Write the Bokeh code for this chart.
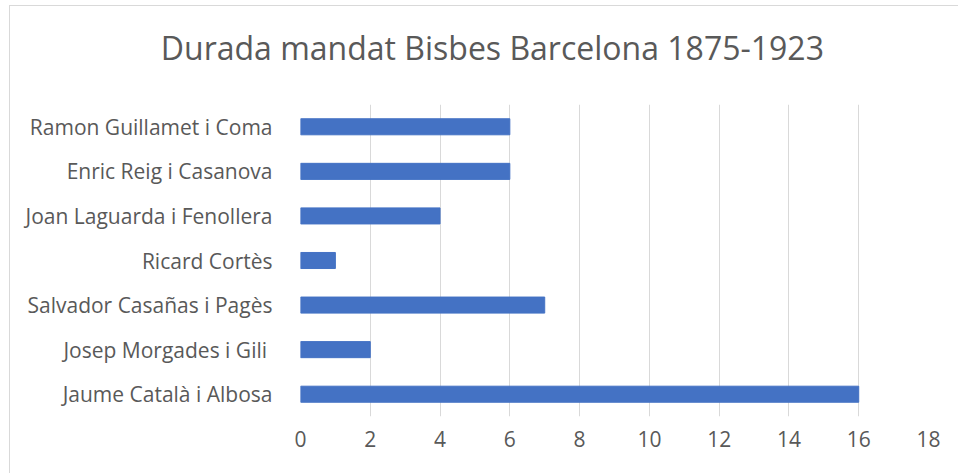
from bokeh.plotting import figure
from bokeh.models import ColumnDataSource, FactorRange, Range1d, FixedTicker, LinearAxis
from bokeh.embed import file_html
from bokeh.resources import INLINE

bishops = [
    "Jaume Català i Albosa",
    "Josep Morgades i Gili ",
    "Salvador Casañas i Pagès",
    "Ricard Cortès",
    "Joan Laguarda i Fenollera",
    "Enric Reig i Casanova",
    "Ramon Guillamet i Coma",
]
years = [16, 2, 7, 1, 4, 6, 6]
x_ticks = [0, 2, 4, 6, 8, 10, 12, 14, 16, 18]
title_text = "Durada mandat Bisbes Barcelona 1875-1923"

FONT = "Open Sans"
GREY = "#595959"
TITLE_POS = 5.5  # horizontal centre of the chart title, in axis units (layout only)

src = ColumnDataSource(dict(name=bishops, val=years))

p = figure(
    width=949, height=468,
    y_range=FactorRange(factors=bishops, range_padding=0),
    x_range=Range1d(0, 18),
    output_backend="svg", toolbar_location=None,
    min_border_left=290, min_border_right=31, min_border_top=98, min_border_bottom=58,
)
p.title = None

# chart title: drawn as the single label of a bare axis above the plot area,
# so that it can be centred on the whole chart rather than on the plot area
title_axis = LinearAxis(ticker=FixedTicker(ticks=[TITLE_POS]),
                        major_label_overrides={TITLE_POS: title_text})
title_axis.axis_line_color = None
title_axis.major_tick_line_color = None
title_axis.minor_tick_line_color = None
title_axis.major_label_text_font = FONT
title_axis.major_label_text_font_size = "32px"
title_axis.major_label_text_color = GREY
title_axis.major_label_standoff = 30
p.add_layout(title_axis, "above")

p.hbar(y="name", right="val", left=0, height=0.36, source=src, color="#4472C4")

p.outline_line_color = None
p.xgrid.ticker = FixedTicker(ticks=x_ticks)
p.xgrid.grid_line_color = "#d9d9d9"
p.ygrid.grid_line_color = None
p.below[0].ticker = FixedTicker(ticks=x_ticks)
for ax in (p.below[0], p.yaxis[0]):
    ax.axis_line_color = None
    ax.major_tick_line_color = None
    ax.minor_tick_line_color = None
    ax.major_label_text_font = FONT
    ax.major_label_text_font_size = "21px"
    ax.major_label_text_color = GREY
p.below[0].major_label_standoff = 8
p.yaxis[0].major_label_standoff = 22
p.styles = {"border-top": "1px solid #d9d9d9", "border-left": "1px solid #d9d9d9",
            "margin-left": "9px", "margin-top": "5px"}

open("out.html", "w").write(file_html(p, INLINE))
